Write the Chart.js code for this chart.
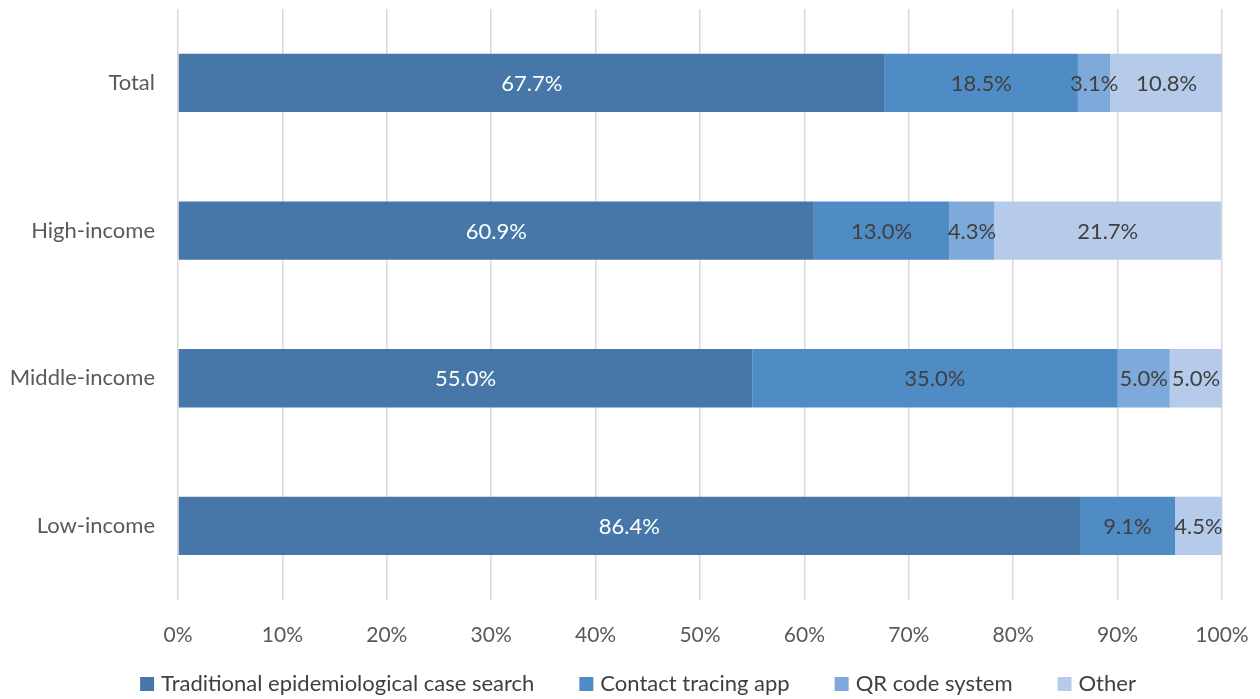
<!DOCTYPE html>
<html>
<head>
    <title>Contact Tracing Methods by Income Group</title>
    <script src="https://cdn.jsdelivr.net/npm/chart.js"></script>
    <style>
        html, body {
            margin: 0;
            padding: 0;
            background: #ffffff;
        }
        .chart-container {
            width: 1260px;
            height: 699px;
        }
    </style>
</head>
<body>
    <div class="chart-container">
        <canvas id="barChart"></canvas>
    </div>

    <script>
        const groups = ['Total', 'High-income', 'Middle-income', 'Low-income'];
        const methods = ['Traditional epidemiological case search', 'Contact tracing app', 'QR code system', 'Other'];

        // share of each method per income group (%)
        const traditional = [67.7, 60.9, 55.0, 86.4];
        const tracingApp = [18.5, 13.0, 35.0, 9.1];
        const qrCode = [3.1, 4.3, 5.0, 0];
        const other = [10.8, 21.7, 5.0, 4.5];

        const colors = ['#4677a8', '#4f8cc6', '#7eaadb', '#b5cbe9'];
        const labelColors = ['#ffffff', '#404040', '#404040', '#404040'];
        const fontFamily = 'Lato, "Open Sans", sans-serif';

        // writes the value in the middle of each stacked segment
        const segmentLabels = {
            id: 'segmentLabels',
            afterDatasetsDraw(chart) {
                const ctx = chart.ctx;
                ctx.save();
                ctx.font = '22px ' + fontFamily;
                ctx.textAlign = 'center';
                ctx.textBaseline = 'middle';
                chart.data.datasets.forEach((ds, i) => {
                    const meta = chart.getDatasetMeta(i);
                    meta.data.forEach((bar, j) => {
                        const v = ds.data[j];
                        if (!v) return;
                        const x = (bar.x + bar.base) / 2;
                        ctx.fillStyle = labelColors[i];
                        ctx.fillText(v.toFixed(1) + '%', x, bar.y + 1);
                    });
                });
                ctx.restore();
            }
        };

        // single-row legend under the axis, with wide gaps between entries
        const bottomLegend = {
            id: 'bottomLegend',
            afterDraw(chart) {
                const ctx = chart.ctx;
                const box = 14, gap = 7, spacing = 45;
                ctx.save();
                ctx.font = '22px ' + fontFamily;
                ctx.textBaseline = 'middle';
                const widths = chart.data.datasets.map(ds => ctx.measureText(ds.label).width);
                const total = widths.reduce((a, w) => a + box + gap + w, 0) + spacing * (widths.length - 1);
                let x = (chart.width - total) / 2 + 8;
                const y = chart.height - 15;
                chart.data.datasets.forEach((ds, i) => {
                    ctx.fillStyle = ds.backgroundColor;
                    ctx.fillRect(x, y - box / 2, box, box);
                    ctx.fillStyle = '#404040';
                    ctx.fillText(ds.label, x + box + gap, y);
                    x += box + gap + widths[i] + spacing;
                });
                ctx.restore();
            }
        };

        const seriesData = [traditional, tracingApp, qrCode, other];

        new Chart(document.getElementById('barChart'), {
            type: 'bar',
            data: {
                labels: groups,
                datasets: methods.map((name, i) => ({
                    label: name,
                    data: seriesData[i],
                    backgroundColor: colors[i],
                    borderWidth: 0,
                    categoryPercentage: 1,
                    barPercentage: 0.395
                }))
            },
            options: {
                indexAxis: 'y',
                responsive: true,
                maintainAspectRatio: false,
                animation: false,
                layout: {
                    padding: { top: 9, right: 38, bottom: 28, left: 0 }
                },
                plugins: {
                    legend: { display: false },
                    tooltip: { enabled: false }
                },
                scales: {
                    x: {
                        stacked: true,
                        min: 0,
                        max: 100,
                        border: { display: false },
                        grid: {
                            color: '#d9d9d9',
                            lineWidth: 1.5,
                            drawTicks: false
                        },
                        afterFit(scale) {
                            scale.paddingLeft = 0;
                            scale.paddingRight = 0;
                        },
                        ticks: {
                            stepSize: 10,
                            padding: 23,
                            color: '#595959',
                            font: { family: fontFamily, size: 21 },
                            callback: v => v + '%'
                        }
                    },
                    y: {
                        stacked: true,
                        border: { display: false },
                        grid: { display: false },
                        afterFit(scale) {
                            scale.width = 178;
                            scale.paddingTop = 0;
                            scale.paddingBottom = 0;
                        },
                        ticks: {
                            padding: 15,
                            color: '#595959',
                            font: { family: fontFamily, size: 22 }
                        }
                    }
                }
            },
            plugins: [segmentLabels, bottomLegend]
        });
    </script>
</body>
</html>
